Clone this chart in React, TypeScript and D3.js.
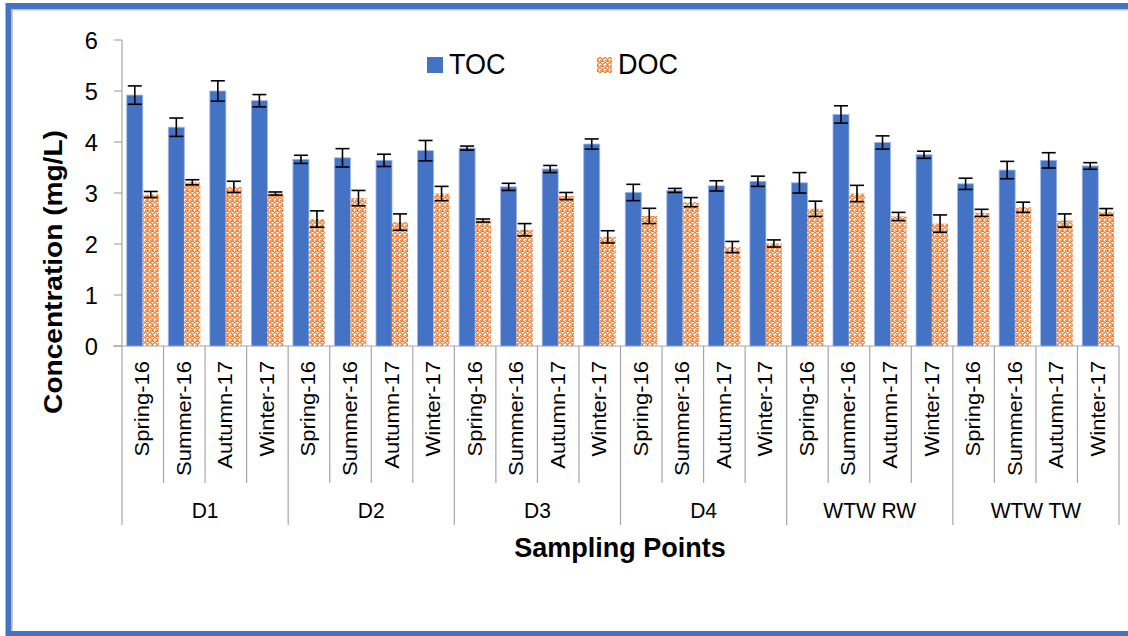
import React from "react";
import * as d3 from "d3";

const groups = ["D1", "D2", "D3", "D4", "WTW RW", "WTW TW"];
const seasons = ["Spring-16", "Summer-16", "Autumn-17", "Winter-17"];
const toc = [4.92, 4.29, 5.0, 4.81, 3.66, 3.69, 3.64, 3.83, 3.88, 3.12, 3.47, 3.96, 3.01, 3.05, 3.14, 3.23, 3.2, 4.54, 3.99, 3.75, 3.18, 3.45, 3.64, 3.53];
const tocErr = [0.18, 0.18, 0.2, 0.12, 0.08, 0.18, 0.12, 0.2, 0.04, 0.07, 0.07, 0.1, 0.16, 0.04, 0.1, 0.1, 0.2, 0.17, 0.13, 0.07, 0.11, 0.17, 0.15, 0.065];
const doc = [2.97, 3.21, 3.12, 2.99, 2.49, 2.9, 2.43, 2.99, 2.46, 2.28, 2.94, 2.14, 2.55, 2.82, 1.94, 2.01, 2.69, 2.99, 2.54, 2.4, 2.61, 2.72, 2.46, 2.63];
const docErr = [0.06, 0.05, 0.11, 0.03, 0.16, 0.15, 0.16, 0.14, 0.03, 0.12, 0.07, 0.12, 0.15, 0.09, 0.11, 0.07, 0.15, 0.16, 0.08, 0.17, 0.07, 0.1, 0.13, 0.065];
const yTicks = [0, 1, 2, 3, 4, 5, 6];
const legendItems = ["TOC", "DOC"];

const categories = groups.flatMap((g) => seasons.map((s) => `${g}|${s}`));

const BLUE = "#4472C4";
const ORANGE = "#ED7D31";
const AXIS = "#A6A6A6";
const FONT = "Liberation Sans, Arial, sans-serif";

export default function App() {
  const W = 1128;
  const H = 636;
  const x = d3.scaleBand<string>().domain(categories).range([122, 1119]).padding(0);
  const y = d3.scaleLinear().domain([0, 6]).range([346, 40]);
  const bw = 16;
  const groupW = x.step() * seasons.length;

  return (
    <svg width={W} height={H} style={{ position: "absolute", left: 0, top: 0, background: "#fff" }} fontFamily={FONT}>
      <defs>
        <pattern id="docPat" width="5" height="5" patternUnits="userSpaceOnUse">
          <rect width="5" height="5" fill="#fff" />
          <path d="M2.5,0.3 L4.7,2.5 L2.5,4.7 L0.3,2.5 Z" fill="none" stroke={ORANGE} strokeWidth="1.25" />
          <rect x="0" y="0" width="1" height="1" fill={ORANGE} />
        </pattern>
      </defs>
      {/* frame */}
      <rect x={0} y={0} width={W} height={H} fill="#fff" />
      <rect x={8.5} y={6} width={W + 20} height={628} fill="none" stroke={BLUE} strokeWidth={6} />
      <line x1={12} y1={9.8} x2={W} y2={9.8} stroke="#BFBFBF" strokeWidth={1.5} />
      <line x1={12.3} y1={9.8} x2={12.3} y2={630} stroke="#BFBFBF" strokeWidth={1.2} />

      {/* y axis */}
      <line x1={122} y1={y(6)} x2={122} y2={y(0)} stroke={AXIS} strokeWidth={1.2} />
      {yTicks.map((t) => (
        <g key={t}>
          <line x1={114} x2={122} y1={y(t)} y2={y(t)} stroke={AXIS} strokeWidth={1.2} />
          <text transform={`translate(98,${y(t) + 8.5}) scale(1.05,1.08)`} textAnchor="end" fontSize={22.5} fill="#000">
            {t}
          </text>
        </g>
      ))}
      {/* x axis */}
      <line x1={113} x2={1119} y1={y(0)} y2={y(0)} stroke={AXIS} strokeWidth={1.2} />
      {categories.map((c, i) => {
        const x0 = x(c)!;
        const isGroupStart = i % seasons.length === 0;
        return (
          <line key={"s" + c} x1={x0} x2={x0} y1={y(0)} y2={isGroupStart ? 525 : 483} stroke={AXIS} strokeWidth={1.2} />
        );
      })}
      <line x1={1119} x2={1119} y1={y(0)} y2={525} stroke={AXIS} strokeWidth={1.2} />

      {/* category labels */}
      {categories.map((c) => {
        const cx = x(c)! + x.bandwidth() / 2;
        const label = c.split("|")[1];
        return (
          <text key={"l" + c} transform={`translate(${cx + 6.5},361) scale(1,1.13) rotate(-90)`} textAnchor="end" fontSize={19.5} fill="#000">
            {label}
          </text>
        );
      })}
      {/* group labels */}
      {groups.map((g, gi) => {
        const gx = 122 + groupW * gi + groupW / 2;
        return (
          <text key={g} transform={`translate(${gx},518) scale(1,1.06)`} textAnchor="middle" fontSize={21} fill="#000">
            {g}
          </text>
        );
      })}

      {/* bars */}
      {categories.map((c, i) => {
        const cx = x(c)! + x.bandwidth() / 2;
        return (
          <g key={"b" + c}>
            <rect x={cx - bw} y={y(toc[i])} width={bw} height={y(0) - y(toc[i])} fill={BLUE} stroke="#9DB5E3" strokeWidth={0.8} />
            <rect x={cx} y={y(doc[i])} width={bw} height={y(0) - y(doc[i])} fill="url(#docPat)" />
          </g>
        );
      })}
      {/* error bars */}
      {categories.map((c, i) => {
        const cx = x(c)! + x.bandwidth() / 2;
        const bars = [
          { xc: cx - bw / 2, v: toc[i], e: tocErr[i] },
          { xc: cx + bw / 2, v: doc[i], e: docErr[i] },
        ];
        return (
          <g key={"e" + c} stroke="#000" strokeWidth={1.6}>
            {bars.map((b, k) => (
              <g key={k}>
                <line x1={b.xc} x2={b.xc} y1={y(b.v + b.e)} y2={y(b.v - b.e)} />
                <line x1={b.xc - 7} x2={b.xc + 7} y1={y(b.v + b.e)} y2={y(b.v + b.e)} />
                <line x1={b.xc - 7} x2={b.xc + 7} y1={y(b.v - b.e)} y2={y(b.v - b.e)} />
              </g>
            ))}
          </g>
        );
      })}

      {/* legend */}
      <rect x={427} y={57} width={16} height={16} fill={BLUE} />
      <text transform="translate(449,74) scale(1,1.1)" fontSize={27} fill="#000">
        {legendItems[0]}
      </text>
      <rect x={597} y={57} width={15} height={16} fill="url(#docPat)" />
      <text transform="translate(618,74) scale(1,1.1)" fontSize={27} fill="#000">
        {legendItems[1]}
      </text>

      {/* axis titles */}
      <text transform="translate(62,272) scale(1,1.08) rotate(-90)" textAnchor="middle" fontSize={26} fontWeight="bold" fill="#000">
        Concentration (mg/L)
      </text>
      <text transform="translate(620,557) scale(1,1.05)" textAnchor="middle" fontSize={27} fontWeight="bold" fill="#000">
        Sampling Points
      </text>
    </svg>
  );
}
